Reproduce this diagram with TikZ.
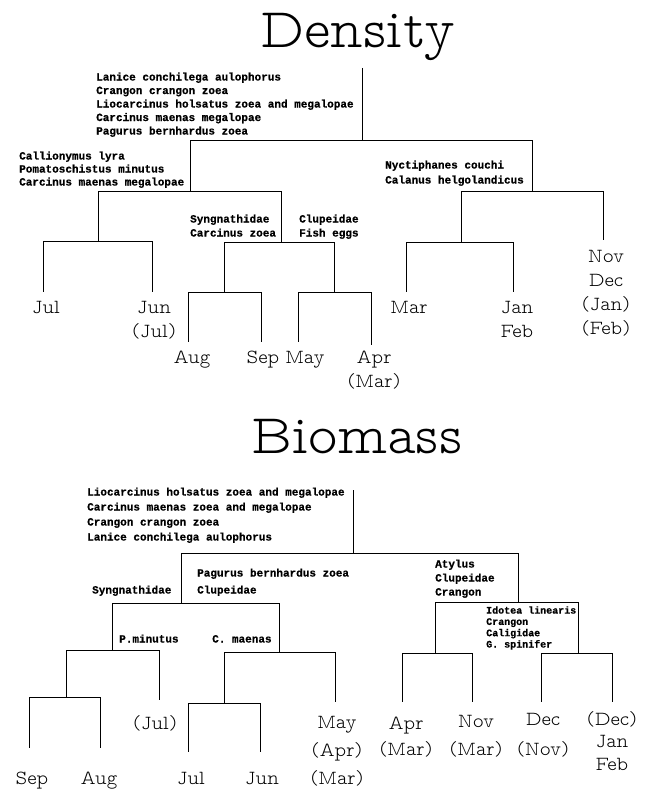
\documentclass[tikz,border=0pt]{standalone}
\usepackage{fontspec}
\newfontfamily\taxafont{Liberation Mono Bold}[FakeBold=0.6]
\newcommand{\typeface}{\fontfamily{lmvtt}\fontseries{l}\selectfont}

\begin{document}
\begin{tikzpicture}[x=1pt,y=-1pt,
  heading/.style={font=\typeface\fontsize{56}{60}\selectfont, inner sep=0pt, anchor=base},
  month/.style={font=\typeface\fontsize{20}{24}\selectfont, inner sep=0pt, anchor=base, align=center},
  taxa/.style={font=\taxafont\fontsize{11}{13.5}\selectfont, inner sep=0pt, anchor=base west, align=left},
  link/.style={line width=0.8pt}]
\useasboundingbox (0,0) rectangle (652,792);

% Density (multi-line labels sit on the baseline of their last line)
\node[heading] (dtitle) at (358,48) {Density};

\coordinate (dtop) at (362,68);
\coordinate (droot) at (362,140);
\coordinate (dL) at (190,191);
\coordinate (dR) at (532,191);
\coordinate (dLL) at (98,241);
\coordinate (dLR) at (281,242);
\coordinate (dLRa) at (224,292);
\coordinate (dLRb) at (334,292);
\coordinate (dRL) at (461,242);
\coordinate (djul) at (43,292);
\coordinate (djun) at (152,292);
\coordinate (daug) at (188,342);
\coordinate (dsep) at (261,342);
\coordinate (dmay) at (298,342);
\coordinate (dapr) at (371,345);
\coordinate (dmar) at (406,292);
\coordinate (djan) at (513,292);
\coordinate (dnov) at (603,240);

\draw[link] (dtop) -- (droot);
\draw[link] (droot) -| (dL);
\draw[link] (droot) -| (dR);
\draw[link] (dL) -| (dLL);
\draw[link] (dL) -| (dLR);
\draw[link] (dLL) -| (djul);
\draw[link] (dLL) -| (djun);
\draw[link] (dLR) -| (dLRa);
\draw[link] (dLR) -| (dLRb);
\draw[link] (dLRa) -| (daug);
\draw[link] (dLRa) -| (dsep);
\draw[link] (dLRb) -| (dmay);
\draw[link] (dLRb) -| (dapr);
\draw[link] (dR) -| (dRL);
\draw[link] (dR) -| (dnov);
\draw[link] (dRL) -| (dmar);
\draw[link] (dRL) -| (djan);

\node[taxa] (dtaxroot) at (96,134.5) {Lanice conchilega aulophorus\\Crangon crangon zoea\\Liocarcinus holsatus zoea and megalopae\\Carcinus maenas megalopae\\Pagurus bernhardus zoea};
\node[taxa, font=\taxafont\fontsize{11}{13}\selectfont] (dtaxL) at (19,185.5) {Callionymus lyra\\Pomatoschistus minutus\\Carcinus maenas megalopae};
\node[taxa, font=\taxafont\fontsize{11}{15}\selectfont] (dtaxR) at (385,183.5) {Nyctiphanes couchi\\Calanus helgolandicus};
\node[taxa, font=\taxafont\fontsize{11}{14}\selectfont] (dtaxLRa) at (190,236.5) {Syngnathidae\\Carcinus zoea};
\node[taxa, font=\taxafont\fontsize{11}{14}\selectfont] (dtaxLRb) at (299,236.5) {Clupeidae\\Fish eggs};

\node[month] (mjul) at (46,313) {Jul};
\node[month] (mjun) at (154,337) {Jun\\(Jul)};
\node[month] (maug) at (192,363) {Aug};
\node[month] (msep) at (263,363) {Sep};
\node[month] (mmay) at (305,363) {May};
\node[month] (mapr) at (374,387) {Apr\\(Mar)};
\node[month] (mmar) at (409,313) {Mar};
\node[month] (mjan) at (517,337) {Jan\\Feb};
\node[month] (mnov) at (606,334) {Nov\\Dec\\(Jan)\\(Feb)};

% Biomass
\node[heading] (btitle) at (357,453) {Biomass};

\coordinate (btop) at (353,490);
\coordinate (broot) at (353,553);
\coordinate (bL) at (181,603);
\coordinate (bR) at (518,602);
\coordinate (bLL) at (112,650);
\coordinate (bLR) at (279,652);
\coordinate (bLLa) at (66,697);
\coordinate (bLRa) at (224,703);
\coordinate (bRL) at (435,653);
\coordinate (bRR) at (578,653);
\coordinate (bsep) at (29,748);
\coordinate (baug) at (100,748);
\coordinate (bjulp) at (159,700);
\coordinate (bjul) at (188,752);
\coordinate (bjun) at (260,752);
\coordinate (bmay) at (335,702);
\coordinate (bapr) at (402,702);
\coordinate (bnov) at (472,702);
\coordinate (bdec) at (541,702);
\coordinate (bdecp) at (612,702);

\draw[link] (btop) -- (broot);
\draw[link] (broot) -| (bL);
\draw[link] (broot) -| (bR);
\draw[link] (bL) -| (bLL);
\draw[link] (bL) -| (bLR);
\draw[link] (bLL) -| (bLLa);
\draw[link] (bLL) -| (bjulp);
\draw[link] (bLLa) -| (bsep);
\draw[link] (bLLa) -| (baug);
\draw[link] (bLR) -| (bLRa);
\draw[link] (bLR) -| (bmay);
\draw[link] (bLRa) -| (bjul);
\draw[link] (bLRa) -| (bjun);
\draw[link] (bR) -| (bRL);
\draw[link] (bR) -| (bRR);
\draw[link] (bRL) -| (bapr);
\draw[link] (bRL) -| (bnov);
\draw[link] (bRR) -| (bdec);
\draw[link] (bRR) -| (bdecp);

\node[taxa, font=\taxafont\fontsize{11}{15}\selectfont] (btaxroot) at (87,540.5) {Liocarcinus holsatus zoea and megalopae\\Carcinus maenas zoea and megalopae\\Crangon crangon zoea\\Lanice conchilega aulophorus};
\node[taxa] (btaxLa) at (197,576.5) {Pagurus bernhardus zoea};
\node[taxa] (btaxLb) at (197,593.5) {Clupeidae};
\node[taxa] (btaxLL) at (92,593.5) {Syngnathidae};
\node[taxa, font=\taxafont\fontsize{11}{14}\selectfont] (btaxR) at (435,595.5) {Atylus\\Clupeidae\\Crangon};
\node[taxa, font=\taxafont\fontsize{10}{11.3}\selectfont] (btaxRR) at (486,647.5) {Idotea linearis\\Crangon\\Caligidae\\G. spinifer};
\node[taxa] (btaxPm) at (119,642.5) {P.minutus};
\node[taxa] (btaxCm) at (212,642.5) {C. maenas};

\node[month] (nsep) at (32,784) {Sep};
\node[month] (naug) at (99,784) {Aug};
\node[month] (njulp) at (155,729) {(Jul)};
\node[month] (njul) at (191,784) {Jul};
\node[month] (njun) at (262,784) {Jun};
\node[month, font=\typeface\fontsize{20}{28}\selectfont] (nmay) at (337,784) {May\\(Apr)\\(Mar)};
\node[month, font=\typeface\fontsize{20}{26}\selectfont] (napr) at (406,755) {Apr\\(Mar)};
\node[month, font=\typeface\fontsize{20}{28}\selectfont] (nnov) at (476,755) {Nov\\(Mar)};
\node[month, font=\typeface\fontsize{20}{30}\selectfont] (ndec) at (543,755) {Dec\\(Nov)};
\node[month, font=\typeface\fontsize{20}{22.5}\selectfont] (ndecp) at (612,770) {(Dec)\\Jan\\Feb};
\end{tikzpicture}
\end{document}
